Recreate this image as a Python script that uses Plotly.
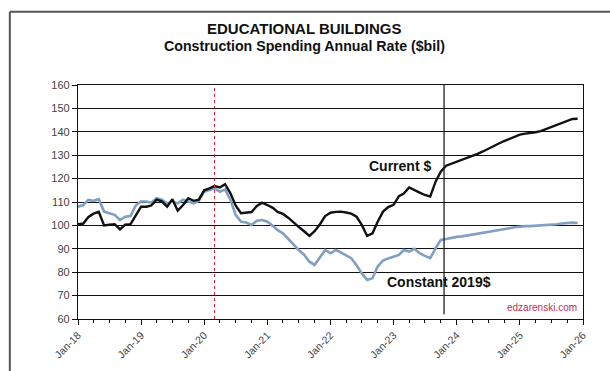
import pandas as pd
import plotly.graph_objects as go

# Monthly series, Jan 2018 - Dec 2025
months = pd.date_range("2018-01-01", periods=96, freq="MS")

current_dollars = [
    100.5, 100.8, 103.5, 105.0, 105.8, 100.0, 100.3, 100.5, 98.3, 100.3, 100.5, 104.5,
    108.0, 108.0, 108.5, 111.0, 110.3, 108.0, 111.2, 106.3, 108.7, 111.6, 110.5, 111.0,
    115.0, 115.8, 116.8, 116.2, 117.6, 113.7, 108.5, 105.2, 105.5, 105.7, 108.3, 109.7,
    108.7, 107.5, 105.8, 104.9, 103.3, 101.5, 99.4, 97.5, 95.5, 97.5, 100.5, 104.0,
    105.4, 105.8, 105.9, 105.5, 105.0, 103.7, 100.2, 95.5, 96.6, 101.6, 105.9, 107.8,
    108.8, 112.5, 113.6, 116.2, 115.0, 114.0, 113.0, 112.3, 118.7, 123.0, 125.5, 126.3,
    127.4, 128.2, 128.9, 129.8, 130.6, 131.6, 132.8, 133.8, 135.0, 136.0, 137.0, 138.0,
    138.8, 139.2, 139.4, 139.8, 140.3, 141.2, 142.0, 142.8, 143.6, 144.8, 145.5, 145.6,
]

constant_2019 = [
    108.0, 108.7, 110.9, 110.5, 111.2, 105.9, 105.2, 104.5, 102.3, 103.7, 104.0, 108.5,
    110.2, 110.2, 109.7, 111.6, 111.0, 109.4, 110.2, 109.4, 111.0, 110.2, 109.4, 110.5,
    114.4, 115.1, 115.8, 114.4, 115.4, 110.9, 104.5, 101.6, 101.2, 100.2, 102.0, 102.3,
    101.6, 99.8, 98.0, 96.6, 94.3, 91.5, 89.5, 87.5, 84.5, 83.1, 86.6, 89.5,
    88.1, 89.5, 88.5, 87.4, 86.0, 83.0, 79.5, 76.7, 77.4, 82.4, 85.0, 85.9,
    86.8, 87.4, 89.5, 88.8, 90.0, 88.1, 87.0, 86.0, 90.2, 93.8, 94.2, 94.7,
    95.1, 95.3, 95.7, 96.0, 96.5, 97.0, 97.3, 97.8, 98.2, 98.5, 98.8, 99.2,
    99.6, 99.7, 99.7, 99.8, 100.0, 100.2, 100.3, 100.5, 100.8, 101.1, 101.2, 101.0,
]

y_ticks = [60, 70, 80, 90, 100, 110, 120, 130, 140, 150, 160]
pandemic_marker = "2020-03-01"
forecast_start = "2023-10-20"

fig = go.Figure()

fig.add_trace(go.Scatter(
    x=months, y=constant_2019, mode="lines", name="Constant 2019$",
    line=dict(color="#7f9fc3", width=2.6),
))
fig.add_trace(go.Scatter(
    x=months, y=current_dollars, mode="lines", name="Current $",
    line=dict(color="#111111", width=2.4),
))

# Reference lines
fig.add_shape(type="line", xref="x", yref="y", x0=pandemic_marker, x1=pandemic_marker,
              y0=60, y1=160, line=dict(color="#d02030", width=1, dash="dot"))
fig.add_shape(type="line", xref="x", yref="y", x0=forecast_start, x1=forecast_start,
              y0=62, y1=160, line=dict(color="#222222", width=1.3))

# Outer frame (left and top edges)
fig.add_shape(type="line", xref="paper", yref="paper",
              x0=-0.135, x1=1.06, y0=1.313, y1=1.313, line=dict(color="#555555", width=2))
fig.add_shape(type="line", xref="paper", yref="paper",
              x0=-0.135, x1=-0.135, y0=1.313, y1=-0.3, line=dict(color="#555555", width=2))

bold = dict(family="Arial", size=14, color="#111111")
fig.add_annotation(x="2023-08-15", y=125.4, text="<b>Current $</b>", showarrow=False,
                   xanchor="right", yanchor="middle", font=bold)
fig.add_annotation(x="2024-07-28", y=75.8, text="<b>Constant 2019$</b>", showarrow=False,
                   xanchor="right", yanchor="middle", font=bold)
fig.add_annotation(x="2025-12-08", y=65.1, text="edzarenski.com", showarrow=False,
                   xanchor="right", yanchor="middle",
                   font=dict(family="Arial", size=10, color="#c8284e"))

fig.add_annotation(xref="paper", yref="paper", x=0.448, y=1.24,
                   text="<b>EDUCATIONAL BUILDINGS</b>", showarrow=False,
                   xanchor="center", yanchor="middle",
                   font=dict(family="Arial", size=15, color="#111111"))
fig.add_annotation(xref="paper", yref="paper", x=0.448, y=1.165,
                   text="<b>Construction Spending Annual Rate ($bil)</b>", showarrow=False,
                   xanchor="center", yanchor="middle",
                   font=dict(family="Arial", size=14.2, color="#111111"))

fig.update_layout(
    width=610, height=371,
    margin=dict(l=78, r=27, t=85, b=52),
    paper_bgcolor="white", plot_bgcolor="white",
    showlegend=False,
    font=dict(family="Arial", color="#444444"),
)

fig.update_xaxes(
    type="date",
    range=["2018-01-01", "2026-01-01"],
    tick0="2018-01-01", dtick="M12", tickformat="%b-%y",
    tickangle=-45, tickfont=dict(size=10.5, color="#444444"),
    ticks="outside", ticklen=5, tickcolor="#111111",
    minor=dict(dtick="M3", ticks="outside", ticklen=3, tickcolor="#111111"),
    showgrid=False, showline=True, linecolor="#111111", linewidth=1.3,
    mirror=True, zeroline=False,
)
fig.update_yaxes(
    range=[60, 160], tickvals=y_ticks,
    tickfont=dict(size=11, color="#444444"),
    ticks="outside", ticklen=5, tickcolor="#111111",
    showgrid=True, gridcolor="#111111", gridwidth=1.2,
    showline=True, linecolor="#111111", linewidth=1.3, mirror=True,
    zeroline=False,
)

fig.write_html("out.html")
